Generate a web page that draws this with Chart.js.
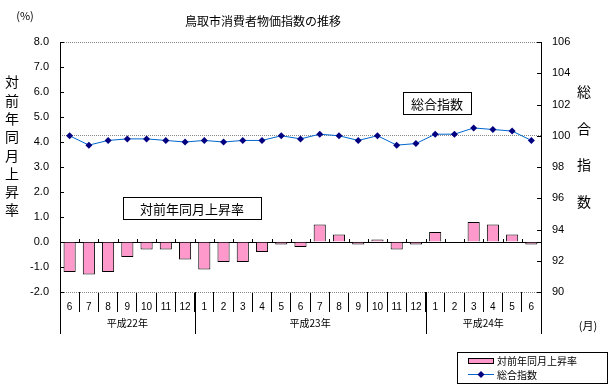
<!DOCTYPE html>
<html>
<head>
<meta charset="utf-8">
<script src="https://cdn.jsdelivr.net/npm/chart.js@4/dist/chart.umd.min.js"></script>
<style>
html, body { margin: 0; padding: 0; background: #fff; }
</style>
</head>
<body>
<canvas id="grafico" width="614" height="391"></canvas>
<script>
// Datos: 鳥取市消費者物価指数の推移
const meses = ['6','7','8','9','10','11','12','1','2','3','4','5','6','7','8','9','10','11','12','1','2','3','4','5','6'];
const anios = ['平成22年', '平成23年', '平成24年'];
const aniosInicio = [0, 7, 19];
const aniosFin = [7, 19, 25];
// 対前年同月上昇率 (%)
const tasa = [-1.2,-1.3,-1.2,-0.6,-0.3,-0.3,-0.7,-1.1,-0.8,-0.8,-0.4,-0.1,-0.2,0.7,0.3,-0.1,0.1,-0.3,-0.1,0.4,0.0,0.8,0.7,0.3,-0.1];
// 総合指数
const indice = [100.0,99.4,99.7,99.8,99.8,99.7,99.6,99.7,99.6,99.7,99.7,100.0,99.8,100.1,100.0,99.7,100.0,99.4,99.5,100.1,100.1,100.5,100.4,100.3,99.7];
// ejes
const ejeIzqMin = -2, ejeIzqMax = 8, ejeIzqPaso = 1;
const ejeDerMin = 90, ejeDerMax = 106, ejeDerPaso = 2;
const lineasPunteadas = [90, 100, 106];

const fuenteJP = "'Noto Sans CJK JP', sans-serif";
const fuenteNum = "'Liberation Sans', sans-serif";

function caja(ctx, x, y, w, h, texto, tam) {
	ctx.fillStyle = '#fff';
	ctx.fillRect(x, y, w, h);
	ctx.strokeStyle = '#000';
	ctx.lineWidth = 1;
	ctx.strokeRect(x + 0.5, y + 0.5, w, h);
	ctx.fillStyle = '#000';
	ctx.font = tam + 'px ' + fuenteJP;
	ctx.textAlign = 'center';
	ctx.textBaseline = 'middle';
	ctx.fillText(texto, x + w / 2, y + h / 2 + 1);
}

// Plugin para textos, marcas interiores y separadores
const extras = {
	id: 'extras',
	afterDraw(chart) {
		const ctx = chart.ctx;
		const a = chart.chartArea;
		const y = chart.scales.y, y2 = chart.scales.y2;
		const n = meses.length;
		const paso = (a.right - a.left) / n;
		ctx.save();
		ctx.fillStyle = '#000';
		// marcas hacia adentro en los ejes verticales
		for (let v = ejeIzqMin; v <= ejeIzqMax; v += ejeIzqPaso) {
			const py = Math.round(y.getPixelForValue(v));
			ctx.fillRect(a.left, py, 4, 1);
		}
		for (let v = ejeDerMin; v <= ejeDerMax; v += ejeDerPaso) {
			const py = Math.round(y2.getPixelForValue(v));
			ctx.fillRect(a.right - 4, py, 4, 1);
		}
		// marcas en la linea del cero y separadores de años
		const y0 = Math.round(y.getPixelForValue(0));
		for (let i = 0; i <= n; i++) {
			const px = Math.round(a.left + i * paso);
			ctx.fillRect(px, y0 - 3, 1, 3);
			if (aniosInicio.includes(i) || i === n) ctx.fillRect(px, a.bottom, 1, 42);
		}

		// años
		ctx.font = '10px ' + fuenteJP;
		ctx.textAlign = 'center';
		ctx.textBaseline = 'middle';
		anios.forEach((t, k) => {
			const cx = a.left + (aniosInicio[k] + aniosFin[k]) / 2 * paso;
			ctx.fillText(t, cx, a.bottom + 31);
		});

		// titulo
		ctx.font = '12px ' + fuenteJP;
		ctx.fillText('鳥取市消費者物価指数の推移', 263, 21);
		// (%) y (月)
		ctx.font = '11px ' + fuenteJP;
		ctx.fillText('(%)', 25, 16);
		ctx.fillText('(月)', 588, 326);
		// titulos verticales
		ctx.font = '14px ' + fuenteJP;
		'対前年同月上昇率'.split('').forEach((c, i) => ctx.fillText(c, 12, 82 + i * 18.3));
		'総合指数'.split('').forEach((c, i) => ctx.fillText(c, 584, 92 + i * 36.5));

		// cajas de rotulos
		caja(ctx, 403, 92, 68, 22, '総合指数', 13);
		caja(ctx, 123, 197, 138, 22, '対前年同月上昇率', 13);

		// leyenda
		ctx.fillStyle = '#fff';
		ctx.fillRect(457, 352, 150, 31);
		ctx.strokeStyle = '#000';
		ctx.lineWidth = 1;
		ctx.strokeRect(457.5, 352.5, 150, 31);
		ctx.fillStyle = '#FF99CC';
		ctx.fillRect(468, 358, 25, 5);
		ctx.strokeRect(468.5, 358.5, 25, 5);
		ctx.fillStyle = '#0066CC';
		ctx.fillRect(468, 374, 26, 1);
		ctx.fillStyle = '#000080';
		ctx.beginPath();
		ctx.moveTo(481, 371); ctx.lineTo(484.5, 374.5); ctx.lineTo(481, 378); ctx.lineTo(477.5, 374.5);
		ctx.closePath();
		ctx.fill();
		ctx.fillStyle = '#000';
		ctx.font = '10px ' + fuenteJP;
		ctx.textAlign = 'left';
		ctx.fillText('対前年同月上昇率', 497, 361);
		ctx.fillText('総合指数', 497, 375);
		ctx.restore();
	}
};

new Chart(document.getElementById('grafico'), {
	type: 'bar',
	data: {
		labels: meses,
		datasets: [
			{
				type: 'line', label: '総合指数', data: indice, yAxisID: 'y2',
				borderColor: '#0066CC', borderWidth: 1, backgroundColor: '#000080',
				pointStyle: 'rectRot', pointRadius: 3.5, pointBorderWidth: 0,
				pointBackgroundColor: '#000080', tension: 0, order: 0
			},
			{
				label: '対前年同月上昇率', data: tasa, yAxisID: 'y',
				backgroundColor: '#FF99CC', borderColor: '#000', borderWidth: 1,
				barPercentage: 0.63, categoryPercentage: 1, order: 1
			}
		]
	},
	options: {
		responsive: false,
		animation: false,
		layout: { padding: { top: 42, left: 0, right: 0, bottom: 0 } },
		plugins: { legend: { display: false }, tooltip: { enabled: false } },
		scales: {
			x: {
				offset: true,
				grid: { display: true, offset: true, drawOnChartArea: false, drawTicks: true, tickLength: 20, color: '#000', lineWidth: 1 },
				border: { display: false },
				ticks: { color: '#000', font: { family: fuenteNum, size: 10 }, padding: -11, maxRotation: 0, autoSkip: false },
				afterFit(s) { s.height = 99; }
			},
			y: {
				position: 'left',
				min: ejeIzqMin, max: ejeIzqMax,
				grid: { drawTicks: false, color: c => c.tick && c.tick.value === 0 ? '#000' : 'rgba(0,0,0,0)' },
				border: { display: true, color: '#000', width: 1 },
				ticks: { stepSize: ejeIzqPaso, color: '#000', padding: 11, font: { family: fuenteNum, size: 11 },
					callback: v => v.toFixed(1) },
				afterFit(s) { s.width = 60; }
			},
			y2: {
				position: 'right',
				min: ejeDerMin, max: ejeDerMax,
				grid: { drawTicks: false, color: c => c.tick && lineasPunteadas.includes(c.tick.value) ? '#888' : 'rgba(0,0,0,0)' },
				border: { display: true, color: '#000', width: 1, dash: [1, 1] },
				ticks: { stepSize: ejeDerPaso, color: '#000', padding: 11, font: { family: fuenteNum, size: 11 } },
				afterFit(s) { s.width = 73; }
			}
		}
	},
	plugins: [extras]
});
</script>
</body>
</html>
